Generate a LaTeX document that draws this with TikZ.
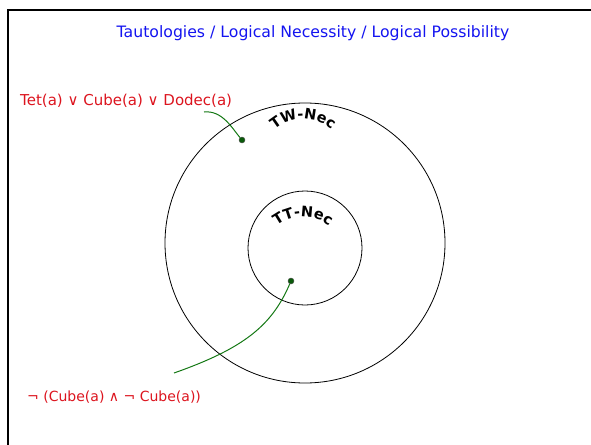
\documentclass[tikz,border=0pt]{standalone}
\usepackage{fontspec}
\setmainfont{DejaVu Sans}
\usetikzlibrary{decorations.text}
\definecolor{titleblue}{RGB}{20,20,240}
\definecolor{labelred}{RGB}{220,20,30}
\definecolor{linkgreen}{RGB}{20,120,20}
\definecolor{dotgreen}{RGB}{10,90,10}
\tikzset{
  frame/.style={line width=2pt, black},
  region/.style={line width=0.8pt, black},
  link/.style={line width=1pt, linkgreen},
  dotnode/.style={circle, fill=dotgreen, draw=black!70, line width=0.4pt, inner sep=0pt, minimum size=6pt},
  titletext/.style={text=titleblue, font=\fontsize{15.7}{19}\selectfont, inner sep=0pt},
  labeltext/.style={text=labelred, font=\fontsize{15}{18}\selectfont, inner sep=0pt, anchor=west},
  curvedlabel/.style={decorate, decoration={text along path, text align=center,
    text={|\fontsize{14.5}{17}\selectfont\bfseries|#1}}},
}
\begin{document}
\begin{tikzpicture}[x=1pt,y=-1pt]
\useasboundingbox (0,0) rectangle (591,444);
% frame
\draw[frame] (7.5,450) -- (7.5,10.5) -- (600,10.5);
% title
\node[titletext] (title) at (313,33) {Tautologies / Logical Necessity / Logical Possibility};
% regions
\draw[region] (305,243) circle [radius=140];
\draw[region] (305,248) circle [radius=57];
% curved region labels
\path[curvedlabel={TW-Nec}] (303,162) ++(205:43) arc (205:335:43);
\path[curvedlabel={TT-Nec}] (303,259) ++(205:42) arc (205:335:42);
% labels
\node[labeltext] (l1) at (20,101) {Tet(a) ∨ Cube(a) ∨ Dodec(a)};
\node[labeltext,font=\fontsize{14}{17}\selectfont] (l2) at (27,397) {¬ (Cube(a) ∧ ¬ Cube(a))};
% sentence points
\node[dotnode] (d1) at (242,140) {};
\node[dotnode] (d2) at (291,281) {};
\coordinate (e1) at (204,112);
\coordinate (e2) at (174,373);
\draw[link] (e1) .. controls (222,110) and (232,128) .. (d1);
\draw[link] (d2) .. controls (272,325) and (245,348) .. (e2);
\end{tikzpicture}
\end{document}
